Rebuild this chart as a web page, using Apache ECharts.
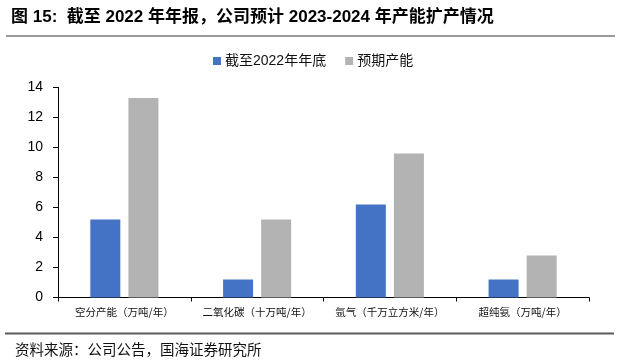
<!DOCTYPE html>
<html>
<head>
<meta charset="utf-8">
<script src="https://cdn.jsdelivr.net/npm/echarts@6/dist/echarts.min.js"></script>
<style>
html,body{margin:0;padding:0;background:#fff;}
#c{width:621px;height:363px;}
</style>
</head>
<body>
<div id="c"></div>
<script>
var categories = ['空分产能（万吨/年）', '二氧化碳（十万吨/年）', '氩气（千万立方米/年）', '超纯氨（万吨/年）'];
var seriesNames = ['截至2022年年底', '预期产能'];
var capacity2022 = [5.2, 1.2, 6.2, 1.2];
var expectedCapacity = [13.3, 5.2, 9.6, 2.8];
var yTicks = [0, 2, 4, 6, 8, 10, 12, 14];

var titleText = '图 15:  截至 2022 年年报，公司预计 2023-2024 年产能扩产情况';
var sourceText = '资料来源：公司公告，国海证券研究所';

var FONT = '"Liberation Sans", "Noto Sans CJK SC", sans-serif';
var chart = echarts.init(document.getElementById('c'), null, {renderer: 'canvas'});
chart.setOption({
  animation: false,
  backgroundColor: '#fff',
  textStyle: {fontFamily: FONT},
  graphic: [
    {type: 'text', left: 11, top: 9, style: {text: titleText, font: 'bold 17px ' + FONT, fill: '#000'}},
    {type: 'rect', shape: {x: 6, y: 35, width: 609, height: 2}, style: {fill: '#9a9a9a'}},
    {type: 'rect', shape: {x: 5, y: 332.5, width: 609, height: 2}, style: {fill: '#5a5a5a'}},
    {type: 'text', left: 15, top: 342, style: {text: sourceText, font: '14.5px "Noto Sans CJK SC", sans-serif', fill: '#111'}}
  ],
  legend: {
    data: seriesNames,
    top: 49,
    left: 208,
    itemWidth: 8,
    itemHeight: 8,
    itemGap: 19,
    icon: 'rect',
    textStyle: {fontSize: 14, color: '#111', fontFamily: FONT, padding: [0, 0, 0, -1]}
  },
  grid: {left: 58, right: 32, top: 87.5, bottom: 65.5, containLabel: false},
  xAxis: {
    type: 'category',
    data: categories,
    axisLine: {lineStyle: {color: '#000', width: 1}},
    axisTick: {show: true, inside: false, length: 4, lineStyle: {color: '#000'}},
    axisLabel: {fontSize: 10.5, color: '#111', margin: 9, fontFamily: '"Noto Sans CJK SC", sans-serif', interval: 0}
  },
  yAxis: {
    type: 'value',
    min: yTicks[0],
    max: yTicks[yTicks.length - 1],
    interval: 2,
    axisLine: {show: true, lineStyle: {color: '#000', width: 1}},
    axisTick: {show: true, length: 5, lineStyle: {color: '#000'}},
    splitLine: {show: false},
    axisLabel: {fontSize: 14, color: '#000', margin: 15, fontFamily: FONT}
  },
  series: [
    {name: seriesNames[0], type: 'bar', data: capacity2022, barWidth: 30, barGap: '27%', itemStyle: {color: '#4472C4'}},
    {name: seriesNames[1], type: 'bar', data: expectedCapacity, barWidth: 30, itemStyle: {color: '#B3B3B3'}}
  ]
});
</script>
</body>
</html>
